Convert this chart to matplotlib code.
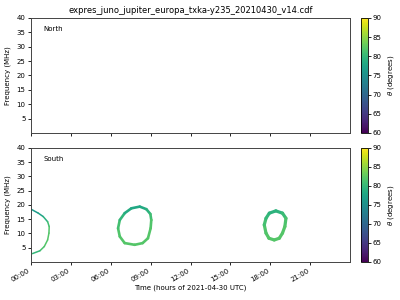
import numpy as np
import matplotlib
matplotlib.use("Agg")
import matplotlib.pyplot as plt
from matplotlib.collections import LineCollection
from matplotlib.colors import Normalize

title = "expres_juno_jupiter_europa_txka-y235_20210430_v14.cdf"
hemispheres = ["North", "South"]
xtick_hours = [0, 3, 6, 9, 12, 15, 18, 21]
xtick_labels = ["00:00", "03:00", "06:00", "09:00", "12:00", "15:00", "18:00", "21:00"]
yticks = [5, 10, 15, 20, 25, 30, 35, 40]
cbar_ticks = [60, 65, 70, 75, 80, 85, 90]

# South emission outlines: time (hours), frequency (MHz), theta (degrees)
tA = [0.0, 0.55, 0.92, 1.25, 1.37, 1.35, 1.25, 1.0, 0.67, 0.1]
fA = [18.5, 17.1, 15.9, 14.1, 12.4, 10.1, 7.7, 5.4, 3.9, 2.9]
thA = [76, 76.5, 78, 80, 81.5, 82, 82, 82, 81, 79]

tB = [8.18, 8.68, 8.98, 9.05, 9.0, 8.8, 8.4, 7.8, 7.05, 6.68, 6.55, 6.68, 7.05, 7.55, 8.18]
fB = [19.4, 18.5, 16.8, 14.7, 11.8, 8.3, 6.6, 6.0, 6.6, 8.9, 11.8, 14.7, 17.1, 18.8, 19.4]
thB = [78, 78.5, 80, 81.5, 82, 82, 82, 82, 82, 82, 81.5, 80.5, 79, 78, 78]

tC = [18.42, 18.92, 19.18, 19.1, 18.92, 18.68, 18.3, 17.9, 17.68, 17.55, 17.68, 17.93, 18.42]
fC = [17.9, 17.1, 15.3, 12.4, 10.1, 8.3, 7.7, 8.3, 10.1, 13.0, 15.3, 17.1, 17.9]
thC = [79, 80, 81, 82, 82, 82, 82, 82, 82, 81.5, 80.5, 79.5, 79]

south_tracks = [(tA, fA, thA, 1.1), (tB, fB, thB, 1.9), (tC, fC, thC, 2.3)]

norm = Normalize(vmin=60, vmax=90)
cmap = plt.get_cmap("viridis")

fig = plt.figure(figsize=(4, 3), dpi=100)
ax_n = fig.add_axes([0.0775, 0.557, 0.7975, 0.383])
ax_s = fig.add_axes([0.0775, 0.127, 0.7975, 0.38])
cax_n = fig.add_axes([0.9025, 0.557, 0.0175, 0.383])
cax_s = fig.add_axes([0.9025, 0.127, 0.0175, 0.38])

for ax, name in zip([ax_n, ax_s], hemispheres):
    ax.set_xlim(0, 24)
    ax.set_ylim(0, 40)
    ax.set_xticks(xtick_hours)
    ax.set_yticks(yticks)
    ax.set_yticklabels([str(v) for v in yticks], fontsize=5)
    ax.set_ylabel("Frequency (MHz)", fontsize=5)
    ax.tick_params(length=2.5, width=0.6, pad=1.5)
    for s in ax.spines.values():
        s.set_linewidth(0.7)
        s.set_color("#444444")
    ax.text(0.038, 0.905, name, transform=ax.transAxes, fontsize=5, va="center", ha="left")

ax_n.set_xticklabels([])
ax_s.set_xticklabels(xtick_labels, fontsize=5, rotation=30, ha="right")
ax_s.set_xlabel("Time (hours of 2021-04-30 UTC)", fontsize=5, labelpad=1)

for t, f, th, lw in south_tracks:
    pts = np.column_stack([t, f])
    segs = np.stack([pts[:-1], pts[1:]], axis=1)
    segth = [(a + b) / 2 for a, b in zip(th[:-1], th[1:])]
    lc = LineCollection(segs, cmap=cmap, norm=norm, linewidths=lw, capstyle="round", joinstyle="round")
    lc.set_array(np.array(segth))
    ax_s.add_collection(lc)

fig.text(0.4775, 0.965, title, fontsize=6.0, ha="center", va="center")

sm = plt.cm.ScalarMappable(norm=norm, cmap=cmap)
for cax in [cax_n, cax_s]:
    cb = fig.colorbar(sm, cax=cax, ticks=cbar_ticks)
    cb.ax.tick_params(labelsize=5, length=2, width=0.6, pad=1.5)
    cb.set_label(r"$\theta$ (degrees)", fontsize=5, labelpad=3)
    cb.outline.set_linewidth(0.6)

fig.savefig("out.png", dpi=100)
